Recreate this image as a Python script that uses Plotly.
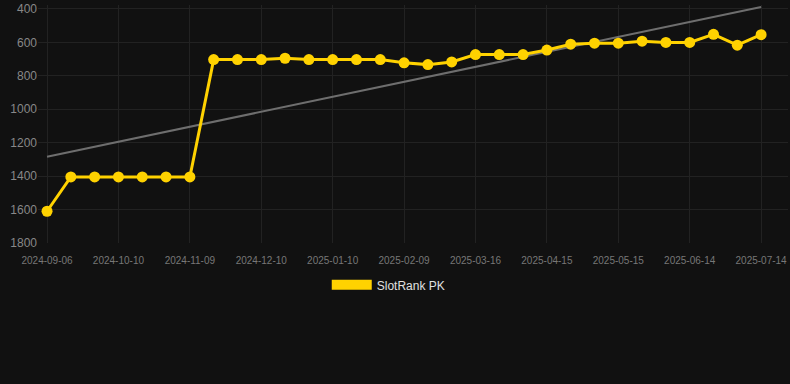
import plotly.graph_objects as go

dates = [
    "2024-09-06", "2024-09-17", "2024-09-28", "2024-10-10", "2024-10-20", "2024-10-30",
    "2024-11-09", "2024-11-19", "2024-11-29", "2024-12-10", "2024-12-20", "2024-12-31",
    "2025-01-10", "2025-01-20", "2025-01-30", "2025-02-09", "2025-02-21", "2025-03-04",
    "2025-03-16", "2025-03-26", "2025-04-05", "2025-04-15", "2025-04-25", "2025-05-05",
    "2025-05-15", "2025-05-25", "2025-06-04", "2025-06-14", "2025-06-24", "2025-07-04",
    "2025-07-14",
]
rank = [
    1610, 1405, 1405, 1405, 1405, 1405,
    1405, 703, 703, 703, 695, 703,
    703, 703, 703, 722, 733, 717,
    673, 673, 673, 646, 611, 605,
    605, 593, 600, 600, 552, 617,
    554,
]
trend_dates = [dates[0], dates[-1]]
trend_values = [1284, 388]
tick_dates = dates[::3]
y_ticks = [400, 600, 800, 1000, 1200, 1400, 1600, 1800]

GOLD = "#FFD200"

fig = go.Figure()
fig.add_trace(go.Scatter(
    x=trend_dates, y=trend_values, mode="lines",
    line=dict(color="#6e6e6e", width=2), showlegend=False, hoverinfo="skip",
))
fig.add_trace(go.Scatter(
    x=dates, y=rank, mode="lines+markers",
    line=dict(color=GOLD, width=3), marker=dict(color=GOLD, size=11),
    showlegend=False, name="SlotRank PK",
))
fig.add_trace(go.Scatter(
    x=[None], y=[None], mode="lines", line=dict(color=GOLD, width=20),
    name="SlotRank PK", showlegend=True,
))

fig.update_layout(
    width=790, height=384,
    paper_bgcolor="#111111", plot_bgcolor="#111111",
    margin=dict(l=38, r=2, t=2, b=141),
    font=dict(family="Arial, Liberation Sans, sans-serif", color="#888888"),
    showlegend=True,
    legend=dict(orientation="h", x=0.385, xanchor="left", y=-0.115, yanchor="top",
                font=dict(size=12, color="#e0e0e0"), itemwidth=40,
                bgcolor="rgba(0,0,0,0)"),
    xaxis=dict(
        type="category", categoryorder="array", categoryarray=dates,
        tickmode="array", tickvals=tick_dates, ticktext=tick_dates,
        range=[-0.38, 31.13], showgrid=True, gridcolor="#222222", gridwidth=1,
        zeroline=False, showline=False, ticks="outside", ticklen=8,
        tickcolor="rgba(0,0,0,0)", tickangle=0, ticklabeloverflow="allow",
        tickfont=dict(size=10, color="#777777"),
    ),
    yaxis=dict(
        range=[1800, 376.4], tickvals=y_ticks, showgrid=True, gridcolor="#222222",
        gridwidth=1, zeroline=False, showline=False, ticks="",
        ticklabeloverflow="allow",
        tickfont=dict(size=12, color="#888888"),
    ),
)

fig.write_html("out.html", config={"displayModeBar": False},
               post_script="document.body.style.margin='0';")
